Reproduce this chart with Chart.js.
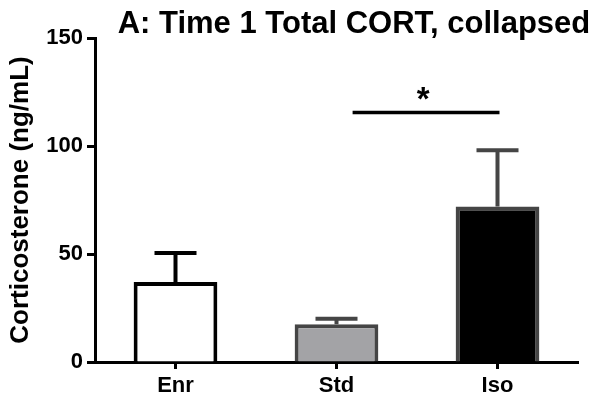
<!DOCTYPE html>
<html><head><meta charset="utf-8">
<script src="https://cdn.jsdelivr.net/npm/chart.js@4/dist/chart.umd.min.js"></script>
<style>html,body{margin:0;padding:0;background:#fff}#wrap{width:601px;height:406px;position:relative}</style>
</head><body><div id="wrap"><canvas id="c" width="601" height="406"></canvas></div>
<script>
const categories = ['Enr', 'Std', 'Iso'];
const means = [37, 17.5, 72];
const sem = [13.5, 2.5, 26];
const fillColors = ['#ffffff', '#a3a3a6', '#000000'];
const edgeColors = ['#000000', '#454545', '#454545'];
const yTicks = [0, 50, 100, 150];
const sigPair = ['Std', 'Iso'];
const sigLevel = 115.5;
const sigLabel = '*';
const titleText = 'A: Time 1 Total CORT, collapsed';
const yTitle = 'Corticosterone (ng/mL)';

const FONT = '"Liberation Sans", Arial, Helvetica, sans-serif';

const extras = {
  id: 'extras',
  afterDatasetsDraw(chart) {
    const ctx = chart.ctx;
    const x = chart.scales.x, y = chart.scales.y;
    const catW = x.getPixelForValue(1) - x.getPixelForValue(0);
    ctx.save();
    // error bars (upper only)
    means.forEach((m, i) => {
      const cx = x.getPixelForValue(i);
      const yTop = y.getPixelForValue(m);
      const yCap = y.getPixelForValue(m + sem[i]);
      ctx.strokeStyle = edgeColors[i];
      ctx.lineWidth = 4;
      ctx.lineCap = 'butt';
      ctx.beginPath();
      ctx.moveTo(cx, yTop);
      ctx.lineTo(cx, yCap);
      ctx.moveTo(cx - 21, yCap);
      ctx.lineTo(cx + 21, yCap);
      ctx.stroke();
    });
    // significance line
    const i1 = categories.indexOf(sigPair[0]);
    const i2 = categories.indexOf(sigPair[1]);
    const xa = x.getPixelForValue(i1) + 0.1 * catW;
    const xb = x.getPixelForValue(i2) + 2;
    const ys = y.getPixelForValue(sigLevel);
    ctx.strokeStyle = '#000';
    ctx.lineWidth = 3.5;
    ctx.beginPath();
    ctx.moveTo(xa, ys);
    ctx.lineTo(xb, ys);
    ctx.stroke();
    ctx.fillStyle = '#000';
    ctx.font = 'bold 33px ' + FONT;
    ctx.textAlign = 'center';
    ctx.textBaseline = 'alphabetic';
    ctx.fillText(sigLabel, (xa + xb) / 2 - 3, ys - 3);
    // title
    ctx.font = 'bold 31px ' + FONT;
    ctx.textAlign = 'center';
    ctx.fillText(titleText, 354, 33);
    ctx.restore();
  }
};

new Chart(document.getElementById('c'), {
  type: 'bar',
  data: {
    labels: categories,
    datasets: [{
      data: means,
      backgroundColor: fillColors,
      borderColor: edgeColors,
      borderWidth: 4,
      barPercentage: 0.52,
      categoryPercentage: 1.0
    }]
  },
  options: {
    responsive: false,
    devicePixelRatio: 1,
    animation: false,
    layout: { padding: { top: 38, right: 23, left: 0, bottom: 0 } },
    plugins: { legend: { display: false }, tooltip: { enabled: false }, title: { display: false } },
    scales: {
      x: {
        offset: true,
        afterFit(s) { s.height = 44; },
        grid: { display: true, offset: false, drawOnChartArea: false, drawTicks: true, tickLength: 7, tickWidth: 3, tickColor: '#000' },
        border: { display: true, color: '#000', width: 3 },
        ticks: { color: '#000', padding: 4, font: { family: FONT, size: 22, weight: 'bold' } }
      },
      y: {
        min: 0, max: 150,
        afterBuildTicks(s) { s.ticks = yTicks.map(v => ({ value: v })); },
        afterFit(s) { s.width = 95; },
        grid: { display: true, drawOnChartArea: false, drawTicks: true, tickLength: 8, tickWidth: 3, tickColor: '#000' },
        border: { display: true, color: '#000', width: 3 },
        ticks: { color: '#000', padding: 4, font: { family: FONT, size: 22, weight: 'bold' } },
        title: { display: true, text: yTitle, color: '#000', padding: { top: 5, bottom: 0 }, font: { family: FONT, size: 26, weight: 'bold' } }
      }
    }
  },
  plugins: [extras]
});
</script></body></html>
